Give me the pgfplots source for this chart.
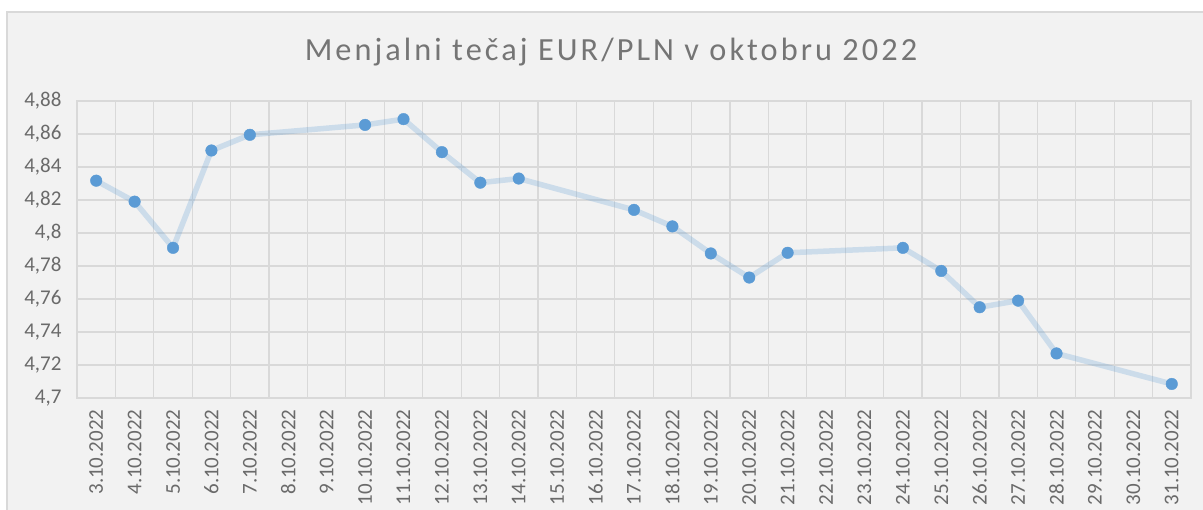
\documentclass[border=0pt]{standalone}
\usepackage{pgfplots}
\pgfplotsset{compat=1.18}
\usepackage{fontspec}
\setmainfont{Carlito}
\newfontfamily\titlefont[LetterSpace=9.5]{Carlito}
\definecolor{bgc}{HTML}{F2F2F2}
\definecolor{gridc}{HTML}{D9D9D9}
\definecolor{txt}{HTML}{6A6A6A}
\definecolor{ttl}{HTML}{757575}
\definecolor{ser}{HTML}{5B9BD5}
\begin{document}
\begin{tikzpicture}[x=1pt,y=1pt]
\useasboundingbox (0,0) rectangle (1203,510);
\fill[bgc] (7,0) rectangle (1203,498);
\draw[gridc, line width=1.2pt] (7,0) -- (7,498) -- (1203,498);
\node[ttl, anchor=base, font=\titlefont\fontsize{32.3}{38}\selectfont] at (611,449) {Menjalni tečaj EUR/PLN v oktobru 2022};
\begin{axis}[at={(77pt,112pt)}, anchor=south west, scale only axis,
  width=1114pt, height=297pt,
  xmin=-0.5, xmax=28.5, ymin=4.7, ymax=4.88,
  xtick={0,1,...,28},
  xticklabels={3.10.2022,4.10.2022,5.10.2022,6.10.2022,7.10.2022,8.10.2022,9.10.2022,10.10.2022,11.10.2022,12.10.2022,13.10.2022,14.10.2022,15.10.2022,16.10.2022,17.10.2022,18.10.2022,19.10.2022,20.10.2022,21.10.2022,22.10.2022,23.10.2022,24.10.2022,25.10.2022,26.10.2022,27.10.2022,28.10.2022,29.10.2022,30.10.2022,31.10.2022},
  minor xtick={-0.5,0.5,...,28.5},
  xminorgrids, ymajorgrids,
  ytick={4.70,4.72,4.74,4.76,4.78,4.80,4.82,4.84,4.86,4.88},
  yticklabels={{4,7},{4,72},{4,74},{4,76},{4,78},{4,8},{4,82},{4,84},{4,86},{4,88}},
  major tick length=0pt, minor tick length=0pt,
  axis line style={gridc, line width=1.2pt},
  grid style={gridc, line width=1.2pt},
  minor grid style={gridc, line width=1.2pt},
  tick label style={txt, font=\fontsize{21}{25}\selectfont},
  xticklabel style={rotate=90, anchor=east},
  xticklabel shift=8pt,
  yticklabel shift=12pt,
  clip=false,
]
\addplot[ser, opacity=0.25, line width=5.5pt, line join=round] coordinates {
(0,4.8317) (1,4.819) (2,4.791) (3,4.850) (4,4.8595) (7,4.8655) (8,4.869) (9,4.849) (10,4.8305) (11,4.833) (14,4.814) (15,4.804) (16,4.7876) (17,4.773) (18,4.788) (21,4.791) (22,4.777) (23,4.755) (24,4.759) (25,4.727) (28,4.7085)
};
\addplot[only marks, mark=*, mark size=5.8pt, mark options={draw=ser, fill=ser}] coordinates {
(0,4.8317) (1,4.819) (2,4.791) (3,4.850) (4,4.8595) (7,4.8655) (8,4.869) (9,4.849) (10,4.8305) (11,4.833) (14,4.814) (15,4.804) (16,4.7876) (17,4.773) (18,4.788) (21,4.791) (22,4.777) (23,4.755) (24,4.759) (25,4.727) (28,4.7085)
};
\end{axis}
\end{tikzpicture}
\end{document}
